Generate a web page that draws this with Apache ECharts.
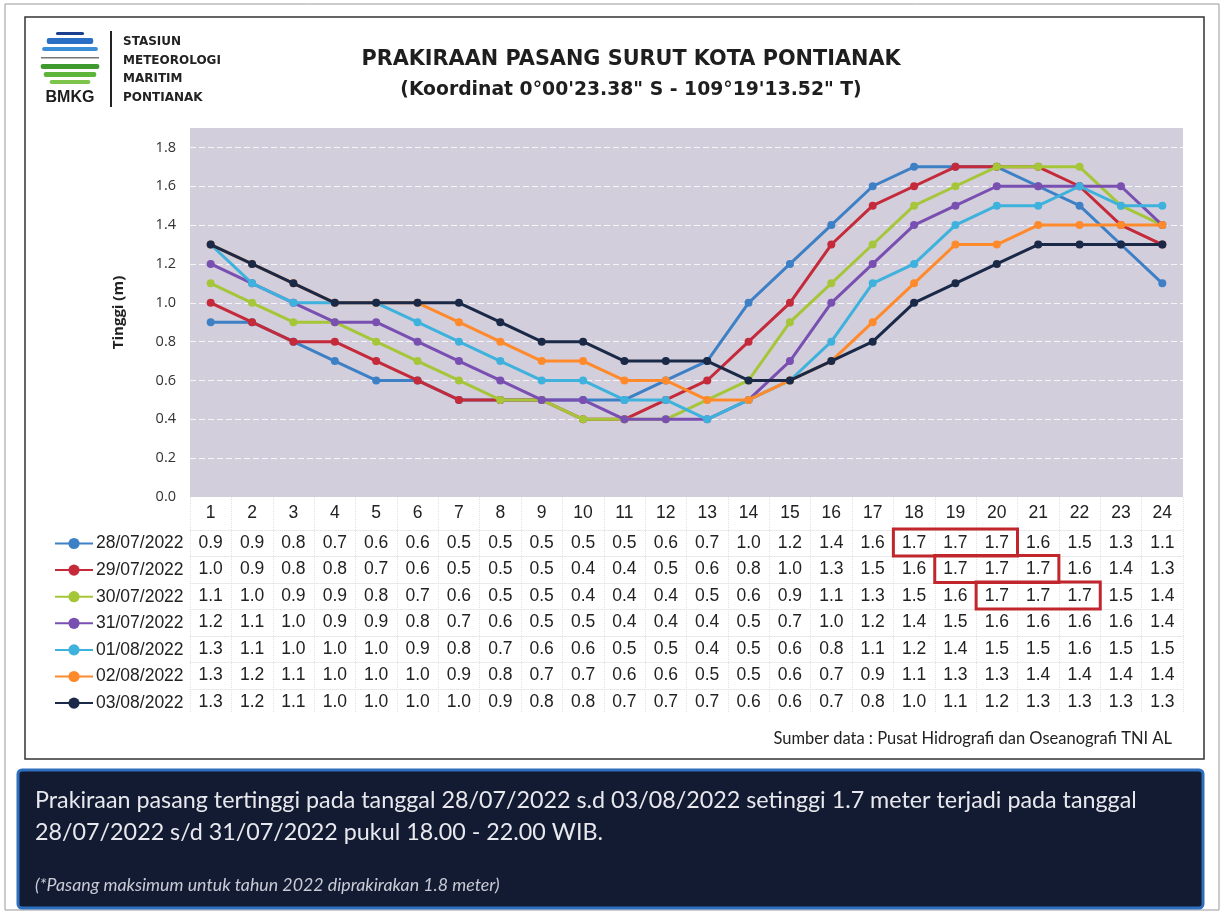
<!DOCTYPE html>
<html><head><meta charset="utf-8">
<script src="https://cdn.jsdelivr.net/npm/echarts@6/dist/echarts.min.js"></script>
<style>html,body{margin:0;padding:0;background:#fff}#c{width:1223px;height:913px}</style>
</head><body><div id="c"></div>
<script>
// ---------- DATA ----------
const hours = ['1','2','3','4','5','6','7','8','9','10','11','12','13','14','15','16','17','18','19','20','21','22','23','24'];
const dates = ['28/07/2022','29/07/2022','30/07/2022','31/07/2022','01/08/2022','02/08/2022','03/08/2022'];
const d2807 = [0.9,0.9,0.8,0.7,0.6,0.6,0.5,0.5,0.5,0.5,0.5,0.6,0.7,1.0,1.2,1.4,1.6,1.7,1.7,1.7,1.6,1.5,1.3,1.1];
const d2907 = [1.0,0.9,0.8,0.8,0.7,0.6,0.5,0.5,0.5,0.4,0.4,0.5,0.6,0.8,1.0,1.3,1.5,1.6,1.7,1.7,1.7,1.6,1.4,1.3];
const d3007 = [1.1,1.0,0.9,0.9,0.8,0.7,0.6,0.5,0.5,0.4,0.4,0.4,0.5,0.6,0.9,1.1,1.3,1.5,1.6,1.7,1.7,1.7,1.5,1.4];
const d3107 = [1.2,1.1,1.0,0.9,0.9,0.8,0.7,0.6,0.5,0.5,0.4,0.4,0.4,0.5,0.7,1.0,1.2,1.4,1.5,1.6,1.6,1.6,1.6,1.4];
const d0108 = [1.3,1.1,1.0,1.0,1.0,0.9,0.8,0.7,0.6,0.6,0.5,0.5,0.4,0.5,0.6,0.8,1.1,1.2,1.4,1.5,1.5,1.6,1.5,1.5];
const d0208 = [1.3,1.2,1.1,1.0,1.0,1.0,0.9,0.8,0.7,0.7,0.6,0.6,0.5,0.5,0.6,0.7,0.9,1.1,1.3,1.3,1.4,1.4,1.4,1.4];
const d0308 = [1.3,1.2,1.1,1.0,1.0,1.0,1.0,0.9,0.8,0.8,0.7,0.7,0.7,0.6,0.6,0.7,0.8,1.0,1.1,1.2,1.3,1.3,1.3,1.3];
const yTicks = [0,0.2,0.4,0.6,0.8,1.0,1.2,1.4,1.6,1.8];
const titleLine1 = 'PRAKIRAAN PASANG SURUT KOTA PONTIANAK';
const titleLine2 = '(Koordinat 0°00\'23.38" S - 109°19\'13.52" T)';
const stationLines = ['STASIUN','METEOROLOGI','MARITIM','PONTIANAK'];
const sourceText = 'Sumber data : Pusat Hidrografi dan Oseanografi TNI AL';
const note1 = 'Prakiraan pasang tertinggi pada tanggal 28/07/2022 s.d 03/08/2022 setinggi 1.7 meter terjadi pada tanggal';
const note2 = '28/07/2022 s/d 31/07/2022 pukul 18.00 - 22.00 WIB.';
const note3 = '(*Pasang maksimum untuk tahun 2022 diprakirakan 1.8 meter)';

// ---------- STYLE ----------
const seriesValues = [d2807,d2907,d3007,d3107,d0108,d0208,d0308];
const colors = ['#3d80c6','#c42a3a','#a6c63a','#7a4fb2','#3eb2dc','#ff8a2c','#1a2947'];
const ROW0 = 543, ROWH = 26.5;
const rowY = i => ROW0 + i * ROWH;
const AXIS_Y = 497;

const chart = echarts.init(document.getElementById('c'), null, {renderer:'canvas'});

const xAxes = [{
  type:'category', data:hours, gridIndex:0, position:'bottom', boundaryGap:true,
  axisLine:{show:false},
  axisTick:{show:true, alignWithLabel:false, length:215, lineStyle:{color:'#e2e2e2', type:'dotted', width:1}},
  axisLabel:{fontSize:17.5, color:'#222', fontFamily:'Liberation Sans', margin:16, verticalAlign:'middle'}
}];
seriesValues.forEach((vals, i) => {
  xAxes.push({
    type:'category', data:vals.map(v => v.toFixed(1)), gridIndex:0, position:'bottom',
    offset: rowY(i) - 13 - AXIS_Y, boundaryGap:true,
    axisLine:{show:true, lineStyle:{color:'#e6e6e6', type:'dotted', width:1}},
    axisTick:{show:false},
    axisLabel:{fontSize:17.5, color:'#222', fontFamily:'Liberation Sans', margin:13, verticalAlign:'middle', interval:0}
  });
});

const logoShapes = [];
(function(){
  const cx = 70, cy = 60, r = 30;
  const blue = [[32,35,'#1b3f8c'],[38,44,'#2a6fc4'],[47,51,'#3a8fd8']];
  const green = [[64,69,'#3e9a2e'],[72,77,'#5db53a'],[80,84,'#7cc44a']];
  blue.concat(green).forEach(([y0,y1,c]) => {
    const yy = (y0 + y1) / 2;
    const dy = Math.abs(yy - cy);
    const w = 2 * Math.sqrt(Math.max(r*r - dy*dy, 0));
    logoShapes.push({type:'rect', shape:{x:cx - w/2, y:y0, width:w, height:y1-y0, r:2}, style:{fill:c}});
  });
  logoShapes.push({type:'rect', shape:{x:cx-29, y:57, width:58, height:1.5}, style:{fill:'#777'}});
})();

const baseGraphics = [
  {type:'rect', id:'outer', shape:{x:5, y:4, width:1214, height:906}, style:{fill:'none', stroke:'#999', lineWidth:1}, z:-10},
  {type:'rect', id:'frame', shape:{x:25, y:17, width:1179, height:742}, style:{fill:'none', stroke:'#333', lineWidth:1.5}, z:-10},
  ...logoShapes,
  {type:'text', style:{text:'BMKG', x:70, y:98, fill:'#1d1d1d', font:'bold 16px "Liberation Sans"', textAlign:'center', textVerticalAlign:'middle'}},
  {type:'rect', shape:{x:110, y:31, width:2, height:76}, style:{fill:'#222'}},
  ...stationLines.map((t, i) => ({type:'text', style:{text:t, x:123, y:42 + i*18.5, fill:'#222', font:'bold 12px "DejaVu Sans"', textVerticalAlign:'middle'}})),
  {type:'text', style:{text:titleLine1, x:631, y:60, fill:'#1e1e1e', font:'bold 20.8px "DejaVu Sans"', textAlign:'center', textVerticalAlign:'middle'}},
  {type:'text', style:{text:titleLine2, x:631, y:90, fill:'#1e1e1e', font:'bold 18.8px "DejaVu Sans"', textAlign:'center', textVerticalAlign:'middle'}},
  {type:'text', style:{text:sourceText, x:1172, y:739, fill:'#222', font:'16.5px "Lato"', textAlign:'right', textVerticalAlign:'middle'}},
  {type:'rect', shape:{x:18, y:770, width:1185, height:138, r:4}, style:{fill:'#121b31', stroke:'#2f6fbf', lineWidth:3}},
  {type:'text', style:{text:note1, x:35, y:800, fill:'#e8e8ee', font:'23.3px "Lato"', textVerticalAlign:'middle'}},
  {type:'text', style:{text:note2, x:35, y:832, fill:'#e8e8ee', font:'23.3px "Lato"', textVerticalAlign:'middle'}},
  {type:'text', style:{text:note3, x:35, y:885, fill:'#c9cad6', font:'italic 17.8px "Lato"', textVerticalAlign:'middle'}}
];

chart.setOption({
  animation:false,
  backgroundColor:'#ffffff',
  grid:{left:190, right:40, top:128, bottom:913-AXIS_Y, show:true, backgroundColor:'#d3cedb', borderWidth:0, containLabel:false},
  legend:{
    orient:'vertical', left:49, top:ROW0 - 13.5, itemWidth:38, itemHeight:14, itemGap:8.6,
    data:dates, textStyle:{fontSize:17.5, color:'#222', fontFamily:'Liberation Sans', lineHeight:17, padding:[0,0,0,-2]},
    selectedMode:false
  },
  xAxis:xAxes,
  yAxis:{
    type:'value', min:0, max:1.9, interval:0.2,
    name:'Tinggi (m)', nameLocation:'middle', nameRotate:90, nameGap:64,
    nameTextStyle:{fontSize:15, fontWeight:'bold', color:'#222', fontFamily:'Open Sans'},
    axisLine:{show:false}, axisTick:{show:false},
    axisLabel:{fontSize:14.5, color:'#333', fontFamily:'Open Sans', margin:14, showMaxLabel:false, formatter:v => v.toFixed(1)},
    splitLine:{show:true, showMaxLine:false, lineStyle:{color:'rgba(255,255,255,0.8)', type:[6,3], width:1}}
  },
  series:seriesValues.map((vals, i) => ({
    name:dates[i], type:'line', data:vals, xAxisIndex:0, yAxisIndex:0,
    symbol:'circle', symbolSize:8, showSymbol:true,
    itemStyle:{color:colors[i]}, lineStyle:{color:colors[i], width:3}, z:2+i
  })),
  graphic:baseGraphics
});

// highlight cells holding the overall maximum
const allMax = Math.max(...seriesValues.flat());
const x0 = chart.convertToPixel({xAxisIndex:0}, hours[0]);
const x1 = chart.convertToPixel({xAxisIndex:0}, hours[1]);
const cw = x1 - x0;
const boxes = [];
seriesValues.forEach((vals, i) => {
  let k = 0;
  while (k < vals.length) {
    if (vals[k] === allMax) {
      let e = k;
      while (e + 1 < vals.length && vals[e+1] === allMax) e++;
      const xs = chart.convertToPixel({xAxisIndex:0}, hours[k]) - cw/2;
      const xe = chart.convertToPixel({xAxisIndex:0}, hours[e]) + cw/2;
      boxes.push({type:'rect', shape:{x:xs, y:rowY(i) - 14, width:xe - xs, height:27}, style:{fill:'none', stroke:'#c0262c', lineWidth:3}, z:50});
      k = e + 1;
    } else k++;
  }
});
chart.setOption({graphic: baseGraphics.concat(boxes)}, {replaceMerge:['graphic']});
</script></body></html>
